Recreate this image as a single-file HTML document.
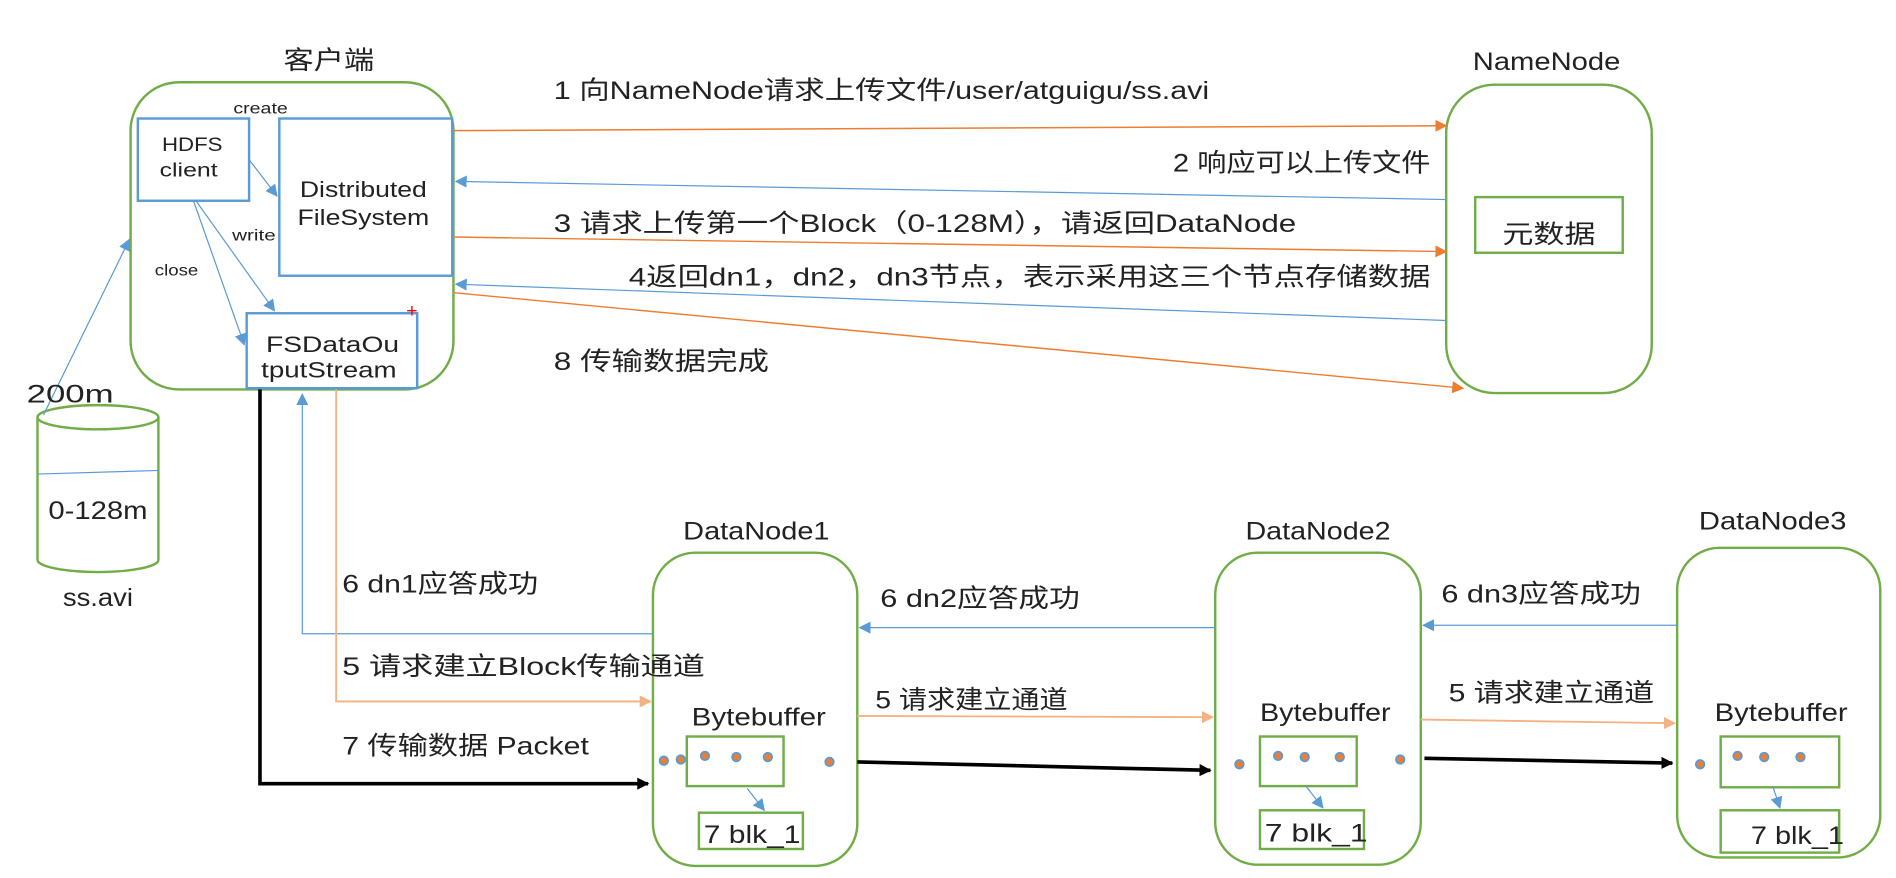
<!DOCTYPE html>
<html><head><meta charset="utf-8"><style>
html,body{margin:0;padding:0;background:#fff;}
svg{display:block;}
text{font-family:"Liberation Sans","Noto Sans CJK SC",sans-serif;fill:#222;}
</style></head><body>
<svg width="1896" height="878" viewBox="0 0 1568 726" preserveAspectRatio="none" xmlns="http://www.w3.org/2000/svg">
<defs>
<marker id="ao" markerWidth="10" markerHeight="10" refX="9" refY="5" orient="auto" markerUnits="userSpaceOnUse"><path d="M0,0 L10,5 L0,10 z" fill="#ed7d31"/></marker>
<marker id="al" markerWidth="10" markerHeight="10" refX="9" refY="5" orient="auto" markerUnits="userSpaceOnUse"><path d="M0,0 L10,5 L0,10 z" fill="#f4b183"/></marker>
<marker id="ab" markerWidth="10" markerHeight="10" refX="9" refY="5" orient="auto" markerUnits="userSpaceOnUse"><path d="M0,0 L10,5 L0,10 z" fill="#5b9bd5"/></marker>
<marker id="ak" markerWidth="10" markerHeight="10" refX="9" refY="5" orient="auto" markerUnits="userSpaceOnUse"><path d="M0,0 L10,5 L0,10 z" fill="#000"/></marker>
</defs>
<g fill="none" stroke="#70ad47" stroke-width="2">
<rect x="108" y="68" width="267" height="254" rx="40"/>
<rect x="1196" y="70" width="170" height="255" rx="40"/>
<rect x="1220" y="163" width="122" height="46"/>
<rect x="540" y="457" width="169" height="259" rx="35"/>
<rect x="1005" y="457" width="170" height="258" rx="35"/>
<rect x="1387" y="453" width="168" height="256" rx="35"/>
<rect x="568" y="609" width="80" height="41"/>
<rect x="578" y="672" width="86" height="30"/>
<rect x="1042" y="609" width="80" height="41"/>
<rect x="1042" y="670" width="86" height="32"/>
<rect x="1423" y="609" width="98" height="42"/>
<rect x="1423" y="670" width="98" height="35"/>
<path d="M31,345 L31,463 A50,10 0 0 0 131,463 L131,345"/>
<ellipse cx="81" cy="345" rx="50" ry="10"/>
</g>
<line x1="31" y1="392" x2="131" y2="389" stroke="#5b9bd5" stroke-width="1"/>
<g fill="none" stroke="#5b9bd5" stroke-width="2">
<rect x="114" y="98" width="92" height="68"/>
<rect x="231" y="98" width="143" height="130"/>
<rect x="204" y="259" width="141" height="62"/>
</g>
<text x="336" y="262" style="fill:red" font-size="16">+</text>
<g stroke="#5b9bd5" stroke-width="1" fill="none" marker-end="url(#ab)">
<line x1="206" y1="132" x2="229" y2="162"/>
<line x1="162" y1="166" x2="227" y2="257"/>
<line x1="160" y1="166" x2="202" y2="285"/>
<line x1="36" y1="343" x2="107" y2="198"/>
<line x1="1196" y1="165" x2="377" y2="150"/>
<line x1="1196" y1="265" x2="377" y2="235"/>
<polyline points="540,524 250,524 250,326"/>
<line x1="1005" y1="519" x2="711" y2="519"/>
<line x1="1387" y1="517" x2="1177" y2="517"/>
<line x1="618" y1="652" x2="632" y2="670"/>
<line x1="1080" y1="650" x2="1094" y2="668"/>
<line x1="1466" y1="650" x2="1472" y2="668"/>
</g>
<g stroke="#ed7d31" stroke-width="1.2" fill="none" marker-end="url(#ao)">
<line x1="375" y1="108" x2="1196" y2="104"/>
<line x1="375" y1="196" x2="1196" y2="208"/>
<line x1="375" y1="242" x2="1210" y2="321"/>
</g>
<g stroke="#f4b183" stroke-width="1.5" fill="none" marker-end="url(#al)">
<polyline points="278,322 278,580 538,580"/>
<line x1="709" y1="592" x2="1003" y2="593"/>
<line x1="1175" y1="595" x2="1385" y2="598"/>
</g>
<g stroke="#000" stroke-width="3" fill="none" marker-end="url(#ak)">
<polyline points="215,322 215,648 536,648"/>
<line x1="709" y1="630" x2="1001" y2="637"/>
<line x1="1178" y1="627" x2="1383" y2="631"/>
</g>
<g fill="#ed7d31" stroke="#5b9bd5" stroke-width="1.5">
<circle cx="549" cy="629" r="3.5"/><circle cx="563" cy="628" r="3.5"/><circle cx="583" cy="625" r="3.5"/><circle cx="609" cy="626" r="3.5"/><circle cx="635" cy="626" r="3.5"/><circle cx="686" cy="630" r="3.5"/>
<circle cx="1025" cy="632" r="3.5"/><circle cx="1057" cy="625" r="3.5"/><circle cx="1079" cy="626" r="3.5"/><circle cx="1108" cy="626" r="3.5"/><circle cx="1158" cy="628" r="3.5"/>
<circle cx="1406" cy="632" r="3.5"/><circle cx="1437" cy="625" r="3.5"/><circle cx="1459" cy="626" r="3.5"/><circle cx="1489" cy="626" r="3.5"/>
</g>
<g font-size="21" lengthAdjust="spacingAndGlyphs">
<text x="272" y="57" text-anchor="middle" textLength="75" lengthAdjust="spacingAndGlyphs">客户端</text>
<text x="1279" y="58" text-anchor="middle" textLength="122" lengthAdjust="spacingAndGlyphs">NameNode</text>
<text x="1281" y="201" text-anchor="middle" textLength="77" lengthAdjust="spacingAndGlyphs">元数据</text>
<text x="458" y="82" textLength="542" lengthAdjust="spacingAndGlyphs">1 向NameNode请求上传文件/user/atguigu/ss.avi</text>
<text x="970" y="142" textLength="213" lengthAdjust="spacingAndGlyphs">2 响应可以上传文件</text>
<text x="458" y="192" textLength="614" lengthAdjust="spacingAndGlyphs">3 请求上传第一个Block（0-128M），请返回DataNode</text>
<text x="520" y="236" textLength="663" lengthAdjust="spacingAndGlyphs">4返回dn1，dn2，dn3节点，表示采用这三个节点存储数据</text>
<text x="458" y="306" textLength="178" lengthAdjust="spacingAndGlyphs">8 传输数据完成</text>
<text x="22" y="333" textLength="72" lengthAdjust="spacingAndGlyphs">200m</text>
<text x="40" y="429" textLength="82" lengthAdjust="spacingAndGlyphs">0-128m</text>
<text x="52" y="501" textLength="58" lengthAdjust="spacingAndGlyphs">ss.avi</text>
<text x="565" y="446" textLength="121" lengthAdjust="spacingAndGlyphs">DataNode1</text>
<text x="1030" y="446" textLength="120" lengthAdjust="spacingAndGlyphs">DataNode2</text>
<text x="1405" y="438" textLength="122" lengthAdjust="spacingAndGlyphs">DataNode3</text>
<text x="283" y="490" textLength="162" lengthAdjust="spacingAndGlyphs">6 dn1应答成功</text>
<text x="283" y="558" textLength="300" lengthAdjust="spacingAndGlyphs">5 请求建立Block传输通道</text>
<text x="283" y="624" textLength="204" lengthAdjust="spacingAndGlyphs">7 传输数据  Packet</text>
<text x="728" y="502" textLength="165" lengthAdjust="spacingAndGlyphs">6 dn2应答成功</text>
<text x="1192" y="498" textLength="165" lengthAdjust="spacingAndGlyphs">6 dn3应答成功</text>
<text x="724" y="586" textLength="159" lengthAdjust="spacingAndGlyphs">5 请求建立通道</text>
<text x="1198" y="580" textLength="170" lengthAdjust="spacingAndGlyphs">5 请求建立通道</text>
<text x="572" y="600" textLength="111" lengthAdjust="spacingAndGlyphs">Bytebuffer</text>
<text x="1042" y="596" textLength="108" lengthAdjust="spacingAndGlyphs">Bytebuffer</text>
<text x="1418" y="596" textLength="110" lengthAdjust="spacingAndGlyphs">Bytebuffer</text>
<text x="582" y="697" textLength="80" lengthAdjust="spacingAndGlyphs">7 blk_1</text>
<text x="1046" y="696" textLength="85" lengthAdjust="spacingAndGlyphs">7 blk_1</text>
<text x="1448" y="698" textLength="77" lengthAdjust="spacingAndGlyphs">7 blk_1</text>
</g>
<g font-size="18">
<text x="248" y="163" textLength="105" lengthAdjust="spacingAndGlyphs">Distributed</text>
<text x="246" y="186" textLength="109" lengthAdjust="spacingAndGlyphs">FileSystem</text>
<text x="220" y="291" textLength="110" lengthAdjust="spacingAndGlyphs">FSDataOu</text>
<text x="216" y="312" textLength="112" lengthAdjust="spacingAndGlyphs">tputStream</text>
<text x="134" y="125" font-size="16" textLength="50" lengthAdjust="spacingAndGlyphs">HDFS</text>
<text x="132" y="146" font-size="16" textLength="48" lengthAdjust="spacingAndGlyphs">client</text>
</g>
<g font-size="13">
<text x="193" y="94" textLength="45" lengthAdjust="spacingAndGlyphs">create</text>
<text x="192" y="199" textLength="36" lengthAdjust="spacingAndGlyphs">write</text>
<text x="128" y="228" textLength="36" lengthAdjust="spacingAndGlyphs">close</text>
</g>
</svg>
</body></html>
